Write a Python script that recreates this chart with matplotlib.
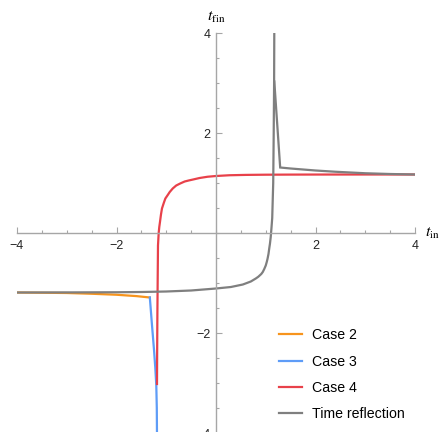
import matplotlib
matplotlib.use("Agg")
import matplotlib.pyplot as plt
from matplotlib.ticker import MultipleLocator, FixedLocator

plt.rcParams["font.family"] = ["Liberation Sans", "DejaVu Sans"]
plt.rcParams["mathtext.fontset"] = "stix"

# Case 2
case2_x = [-4.0, -3.5, -3.0, -2.5, -2.0, -1.6, -1.33]
case2_y = [-1.19, -1.195, -1.20, -1.215, -1.235, -1.262, -1.29]

# Case 3
case3_x = [-1.33, -1.29, -1.245, -1.22, -1.20, -1.19, -1.185]
case3_y = [-1.29, -1.80, -2.35, -2.70, -3.05, -3.50, -4.20]

# Case 4
case4_x = [-1.186, -1.183, -1.178, -1.172, -1.166, -1.152, -1.14, -1.126,
           -1.106, -1.086, -1.05, -1.018, -0.97, -0.93, -0.87, -0.80, -0.72,
           -0.63, -0.55, -0.46, -0.33, -0.17, 0.0, 0.27, 0.6, 1.0, 1.5, 2.0,
           3.0, 4.0]
case4_y = [-3.02, -2.4, -1.6, -0.9, -0.25, 0.0, 0.12, 0.22,
           0.37, 0.49, 0.60, 0.69, 0.76, 0.82, 0.89, 0.95, 0.99,
           1.03, 1.05, 1.07, 1.10, 1.125, 1.14, 1.155, 1.162, 1.166, 1.168,
           1.169, 1.17, 1.17]

# Time reflection: lower branch and upper branch
refl_lo_x = [-4.0, -3.0, -2.0, -1.5, -1.0, -0.5, 0.0, 0.3, 0.54, 0.7, 0.8,
             0.85, 0.91, 0.94, 0.97, 1.0, 1.02, 1.035, 1.055, 1.07, 1.085,
             1.10, 1.115, 1.13, 1.15, 1.16, 1.168, 1.172]
refl_lo_y = [-1.19, -1.188, -1.185, -1.18, -1.17, -1.15, -1.11, -1.08, -1.03,
             -0.97, -0.91, -0.875, -0.82, -0.78, -0.72, -0.65, -0.58, -0.52,
             -0.42, -0.31, -0.21, -0.08, 0.10, 0.30, 1.0, 2.0, 3.0, 4.1]
refl_hi_x = [1.172, 1.29, 1.5, 1.75, 2.0, 2.4, 3.0, 3.5, 4.0]
refl_hi_y = [3.03, 1.31, 1.29, 1.27, 1.25, 1.225, 1.195, 1.18, 1.17]

series_colors = {"Case 2": "#F7941D", "Case 3": "#5E9CF7",
                 "Case 4": "#E8414A", "Time reflection": "#7F7F7F"}

fig = plt.figure(figsize=(4.40, 4.32), dpi=100)
ax = fig.add_axes([17 / 440, -1 / 432, 398 / 440, 400 / 432])

lw = 1.6
ax.plot(case2_x, case2_y, color=series_colors["Case 2"], lw=lw, label="Case 2",
        solid_joinstyle="round")
ax.plot(case3_x, case3_y, color=series_colors["Case 3"], lw=lw, label="Case 3",
        solid_joinstyle="round")
ax.plot(case4_x, case4_y, color=series_colors["Case 4"], lw=lw, label="Case 4",
        solid_joinstyle="round")
ax.plot(refl_lo_x, refl_lo_y, color=series_colors["Time reflection"], lw=lw,
        label="Time reflection", solid_joinstyle="round")
ax.plot(refl_hi_x, refl_hi_y, color=series_colors["Time reflection"], lw=lw,
        solid_joinstyle="miter")

ax.set_xlim(-4, 4)
ax.set_ylim(-4, 4)

# axes through the origin
for side in ("top", "right"):
    ax.spines[side].set_visible(False)
ax.spines["left"].set_position(("data", 0))
ax.spines["bottom"].set_position(("data", 0))
axis_col = "#A6A6A6"
for side in ("left", "bottom"):
    ax.spines[side].set_color(axis_col)
    ax.spines[side].set_linewidth(1.0)

ax.xaxis.set_major_locator(FixedLocator([-4, -2, 2, 4]))
ax.yaxis.set_major_locator(FixedLocator([-4, -2, 2, 4]))
ax.xaxis.set_minor_locator(MultipleLocator(0.5))
ax.yaxis.set_minor_locator(MultipleLocator(0.5))
ax.set_xticklabels(["\u22124", "\u22122", "2", "4"])
ax.set_yticklabels(["\u22124", "\u22122", "2", "4"])
ax.tick_params(axis="x", which="both", direction="in", color=axis_col,
               labelsize=9, pad=5, labelcolor="#222222")
ax.tick_params(axis="y", which="both", direction="in", color=axis_col,
               labelsize=9, pad=4, labelcolor="#222222")
ax.tick_params(which="major", length=4, width=0.8)
ax.tick_params(which="minor", length=2.5, width=0.8)

ax.text(1.025, 0.5, r"$t_{\mathrm{in}}$", transform=ax.transAxes,
        fontsize=11.5, ha="left", va="center")
ax.text(0.5, 1.02, r"$t_{\mathrm{fin}}$", transform=ax.transAxes,
        fontsize=11.5, ha="center", va="bottom")

ax.legend(loc="upper left", bbox_to_anchor=(262 / 398, 0.262), frameon=False,
          fontsize=10.2, handlelength=1.65, handletextpad=0.65,
          labelspacing=0.87, borderaxespad=0, borderpad=0)

fig.savefig("out.png", dpi=100)
